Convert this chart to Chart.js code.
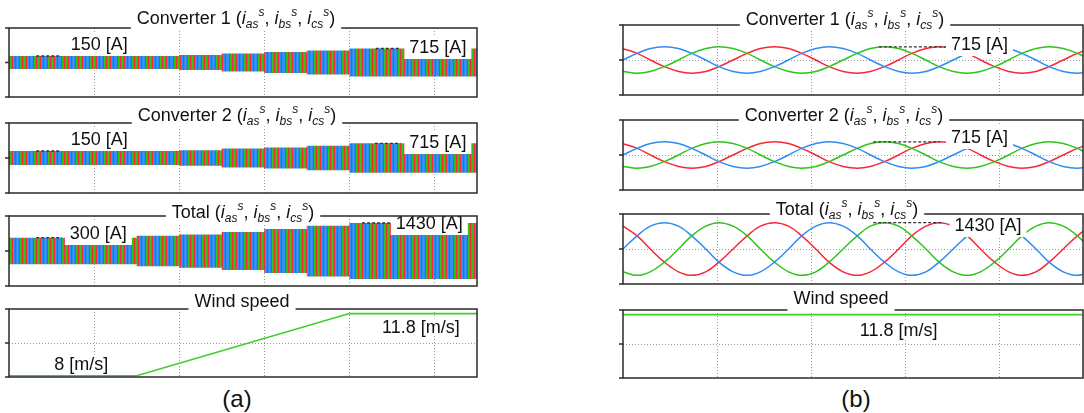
<!DOCTYPE html>
<html>
<head>
<meta charset="utf-8">
<script src="https://cdn.jsdelivr.net/npm/chart.js@4.4.0/dist/chart.umd.min.js"></script>
<style>
  body { margin: 0; background: #fff; width: 1084px; height: 413px; position: relative; overflow: hidden;
         font-family: "Liberation Sans", Arial, sans-serif; }
  .cap { position: absolute; top: 385px; width: 60px; text-align: center; font-size: 24px; line-height: 28px; color: #111; }
</style>
</head>
<body>
<div class="cap" style="left:207px">(a)</div>
<div class="cap" style="left:826px">(b)</div>
<script>
var FONT = '"Liberation Sans", Arial, sans-serif';
var RED = '#f8283a', BLUE = '#2f8cf4', GREEN = '#2fc41c', WIND = '#3ccf2a';

// ---- (a) wind ramp, long time window (x in grid divisions) ----
var segStartA = [0, 1.5, 2.0, 2.5, 3.0, 3.5, 4.0];
var segEndA = 5.5;
var conv1PeakA = [340, 340, 390, 470, 550, 625, 730];
var conv2PeakA = [360, 360, 395, 485, 540, 625, 755];
var totalPeakA = [685, 780, 855, 975, 1130, 1305, 1440];
var windTimeA = [0, 1.5, 4.0, 5.5];
var windA = [8, 8, 11.8, 11.8];

// ---- (b) steady state at 11.8 m/s, a few cycles ----
var timeB = [0.00, 0.15, 0.29, 0.44, 0.59, 0.73, 0.88, 1.02, 1.17, 1.32, 1.46, 1.61,
             1.76, 1.90, 2.05, 2.19, 2.34, 2.49, 2.63, 2.78, 2.93, 3.07, 3.22, 3.36,
             3.51, 3.66, 3.80, 3.95, 4.10, 4.24, 4.39, 4.53, 4.68, 4.83, 4.97];
var iasConvB = [0, 358, 619, 715, 619, 358, 0, -358, -619, -715, -619, -358,
                0, 358, 619, 715, 619, 358, 0, -358, -619, -715, -619, -358,
                0, 358, 619, 715, 619, 358, 0, -358, -619, -715, -619];
var ibsConvB = [-619, -715, -619, -358, 0, 358, 619, 715, 619, 358, 0, -358,
                -619, -715, -619, -358, 0, 358, 619, 715, 619, 358, 0, -358,
                -619, -715, -619, -358, 0, 358, 619, 715, 619, 358, 0];
var icsConvB = [619, 358, 0, -358, -619, -715, -619, -358, 0, 358, 619, 715,
                619, 358, 0, -358, -619, -715, -619, -358, 0, 358, 619, 715,
                619, 358, 0, -358, -619, -715, -619, -358, 0, 358, 619];
var iasTotB = [0, 715, 1238, 1430, 1238, 715, 0, -715, -1238, -1430, -1238, -715,
               0, 715, 1238, 1430, 1238, 715, 0, -715, -1238, -1430, -1238, -715,
               0, 715, 1238, 1430, 1238, 715, 0, -715, -1238, -1430, -1238];
var ibsTotB = [-1238, -1430, -1238, -715, 0, 715, 1238, 1430, 1238, 715, 0, -715,
               -1238, -1430, -1238, -715, 0, 715, 1238, 1430, 1238, 715, 0, -715,
               -1238, -1430, -1238, -715, 0, 715, 1238, 1430, 1238, 715, 0];
var icsTotB = [1238, 715, 0, -715, -1238, -1430, -1238, -715, 0, 715, 1238, 1430,
               1238, 715, 0, -715, -1238, -1430, -1238, -715, 0, 715, 1238, 1430,
               1238, 715, 0, -715, -1238, -1430, -1238, -715, 0, 715, 1238];
var windTimeB = [0, 4.89];
var windB = [11.8, 11.8];

function pts(xs, ys) {
  return xs.map(function (x, i) { return { x: x, y: ys[i] }; });
}
function stepPts(peaks, sign) {
  var p = segStartA.map(function (t, i) { return { x: t, y: sign * peaks[i] }; });
  p.push({ x: segEndA, y: sign * peaks[peaks.length - 1] });
  return p;
}
// dense three-phase waveform seen as striped band
function stripes(ctx) {
  var c = document.createElement('canvas');
  c.width = 7; c.height = 4;
  var g = c.getContext('2d');
  [BLUE, RED, BLUE, GREEN, BLUE, RED, GREEN].forEach(function (col, i) {
    g.fillStyle = col; g.fillRect(i, 0, 1, 4);
  });
  return ctx.createPattern(c, 'repeat');
}
function bandSets(peaks) {
  return function (ctx) {
    return [
      { data: stepPts(peaks, 1), stepped: true, borderWidth: 0, borderColor: 'rgba(0,0,0,0)', fill: false },
      { data: stepPts(peaks, -1), stepped: true, borderWidth: 0, borderColor: 'rgba(0,0,0,0)', fill: '-1', backgroundColor: stripes(ctx) }
    ];
  };
}
function phaseSets(a, b, c) {
  return function () {
    return [
      { data: pts(timeB, a), borderColor: BLUE, tension: 0.4 },
      { data: pts(timeB, b), borderColor: GREEN, tension: 0.4 },
      { data: pts(timeB, c), borderColor: RED, tension: 0.4 }
    ];
  };
}
function windSets(t, v) {
  return function () {
    return [{ data: pts(t, v), borderColor: WIND, borderWidth: 1.6 }];
  };
}

var colA = { left: 0, width: 490, plotL: 9, plotR: 477, xMax: 5.5 };
var colB = { left: 600, width: 484, plotL: 623, plotR: 1083, xMax: 4.89 };

var panels = [
  { id: 'L1', col: colA, top: 28, bottom: 97, yr: [-1800, 1800], sets: bandSets(conv1PeakA),
    title: 'Converter 1', sym: true, tdx: -7, tdy: -4.5,
    labels: [{ text: '150 [A]', x: 1.06, y: 965 }, { text: '715 [A]', x: 5.04, y: 809 }],
    leaders: [{ x0: 0.32, x1: 0.6, y: 340 }, { x0: 4.31, x1: 4.6, y: 730 }] },
  { id: 'L2', col: colA, top: 123, bottom: 193, yr: [-1800, 1800], sets: bandSets(conv2PeakA),
    title: 'Converter 2', sym: true, tdx: -6, tdy: -2.5,
    labels: [{ text: '150 [A]', x: 1.06, y: 977 }, { text: '715 [A]', x: 5.04, y: 823 }],
    leaders: [{ x0: 0.32, x1: 0.6, y: 360 }, { x0: 4.3, x1: 4.6, y: 755 }] },
  { id: 'L3', col: colA, top: 216, bottom: 286, yr: [-1800, 1800], sets: bandSets(totalPeakA),
    title: 'Total', sym: true, tdx: 0, tdy: 1.5,
    labels: [{ text: '300 [A]', x: 1.05, y: 926 }, { text: '1430 [A]', x: 4.94, y: 1440 }],
    leaders: [{ x0: 0.32, x1: 0.62, y: 685 }, { x0: 4.15, x1: 4.48, y: 1440 }] },
  { id: 'L4', col: colA, top: 309, bottom: 377, yr: [7.92, 12.08], sets: windSets(windTimeA, windA),
    title: 'Wind speed', sym: false, tdx: -1, tdy: -2.5,
    labels: [{ text: '8 [m/s]', x: 0.85, y: 8.73, h: 9 }, { text: '11.8 [m/s]', x: 4.84, y: 10.96, h: 9 }],
    leaders: [] },
  { id: 'R1', col: colB, top: 25, bottom: 95, yr: [-1900, 1900], sets: phaseSets(iasConvB, ibsConvB, icsConvB),
    title: 'Converter 1', sym: true, tdx: -8, tdy: -0.5,
    labels: [{ text: '715 [A]', x: 3.79, y: 869 }],
    leaders: [{ x0: 2.72, x1: 3.43, y: 715 }] },
  { id: 'R2', col: colB, top: 120, bottom: 190, yr: [-1900, 1900], sets: phaseSets(iasConvB, ibsConvB, icsConvB),
    title: 'Converter 2', sym: true, tdx: -9, tdy: 0.5,
    labels: [{ text: '715 [A]', x: 3.79, y: 977 }],
    leaders: [{ x0: 2.66, x1: 3.37, y: 715 }] },
  { id: 'R3', col: colB, top: 214, bottom: 284, yr: [-1900, 1900], sets: phaseSets(iasTotB, ibsTotB, icsTotB),
    title: 'Total', sym: true, tdx: -6, tdy: 0.5,
    labels: [{ text: '1430 [A]', x: 3.88, y: 1303 }],
    leaders: [{ x0: 2.66, x1: 3.38, y: 1430 }] },
  { id: 'R4', col: colB, top: 310, bottom: 378, yr: [7.92, 12.08], sets: windSets(windTimeB, windB),
    title: 'Wind speed', sym: false, tdx: -12, tdy: -6.5,
    labels: [{ text: '11.8 [m/s]', x: 2.93, y: 10.84, h: 9 }],
    leaders: [] }
];
var panelById = {};

function drawTitle(ctx, p, a) {
  var parts = [[p.title + (p.sym ? ' (' : ''), 18, 0, false]];
  if (p.sym) {
    ['as', 'bs', 'cs'].forEach(function (sub, k) {
      parts.push(['i', 18, 0, true], [sub, 12, 4, true], ['s', 12, -8, true]);
      parts.push([k < 2 ? ', ' : ')', 18, 0, false]);
    });
  }
  var w = 0;
  parts.forEach(function (q) {
    ctx.font = (q[3] ? 'italic ' : '') + q[1] + 'px ' + FONT;
    q.w = ctx.measureText(q[0]).width; w += q.w;
  });
  var base = a.top + p.tdy;
  var x = (a.left + a.right) / 2 + p.tdx - w / 2;
  var bot = Math.max(base + 6, a.top + 2);
  ctx.fillStyle = '#fff';
  ctx.fillRect(x - 6, base - 17, w + 12, bot - base + 17);
  ctx.fillStyle = '#111'; ctx.textAlign = 'left'; ctx.textBaseline = 'alphabetic';
  parts.forEach(function (q) {
    ctx.font = (q[3] ? 'italic ' : '') + q[1] + 'px ' + FONT;
    ctx.fillText(q[0], x, base + q[2]);
    x += q.w;
  });
}

var deco = {
  id: 'deco',
  afterDatasetsDraw: function (chart) {
    var p = panelById[chart.canvas.id];
    var ctx = chart.ctx, a = chart.chartArea, xs = chart.scales.x, ys = chart.scales.y;
    ctx.save();
    ctx.strokeStyle = '#333'; ctx.lineWidth = 1.3; ctx.setLineDash([3, 2]);
    p.leaders.forEach(function (l) {
      var y = ys.getPixelForValue(l.y);
      ctx.beginPath(); ctx.moveTo(xs.getPixelForValue(l.x0), y); ctx.lineTo(xs.getPixelForValue(l.x1), y); ctx.stroke();
    });
    ctx.setLineDash([]);
    ctx.font = '18px ' + FONT; ctx.textAlign = 'center'; ctx.textBaseline = 'middle';
    p.labels.forEach(function (l) {
      var px = xs.getPixelForValue(l.x), py = ys.getPixelForValue(l.y);
      var w = ctx.measureText(l.text).width, h = l.h || 12;
      ctx.fillStyle = '#fff'; ctx.fillRect(px - w / 2 - 5, py - h, w + 10, 2 * h);
      ctx.fillStyle = '#111'; ctx.fillText(l.text, px, py + 1);
    });
    ctx.strokeStyle = '#2a2a2a'; ctx.lineWidth = 1.5;
    ctx.strokeRect(a.left, a.top, a.right - a.left, a.bottom - a.top);
    [ys.min, (ys.min + ys.max) / 2, ys.max].forEach(function (v) {
      var y = ys.getPixelForValue(v);
      ctx.beginPath(); ctx.moveTo(a.left - 4, y); ctx.lineTo(a.left, y); ctx.stroke();
    });
    drawTitle(ctx, p, a);
    ctx.restore();
  }
};

function makePanel(p) {
  var col = p.col;
  var cv = document.createElement('canvas');
  cv.id = p.id;
  cv.width = col.width;
  cv.height = p.bottom - p.top + 36;
  cv.style.cssText = 'position:absolute;left:' + col.left + 'px;top:' + (p.top - 32) + 'px;';
  document.body.appendChild(cv);
  panelById[p.id] = p;
  var ctx = cv.getContext('2d');
  var mid = (p.yr[0] + p.yr[1]) / 2;
  var xTicks = [];
  for (var k = 1; k < col.xMax; k++) xTicks.push({ value: k });
  new Chart(cv, {
    type: 'line',
    data: { datasets: p.sets(ctx) },
    options: {
      responsive: false,
      animation: false,
      devicePixelRatio: 1,
      layout: { padding: { left: col.plotL - col.left, right: col.left + col.width - col.plotR, top: 32, bottom: 4 } },
      plugins: { legend: { display: false }, tooltip: { enabled: false } },
      elements: { point: { radius: 0 }, line: { borderWidth: 1.5 } },
      scales: {
        x: {
          type: 'linear', min: 0, max: col.xMax,
          ticks: { display: false },
          grid: { color: '#9c9c9c', lineWidth: 1, drawTicks: false },
          border: { display: false, dash: [1, 2] },
          afterBuildTicks: function (s) { s.ticks = xTicks.slice(); },
          afterFit: function (s) { s.height = 0; }
        },
        y: {
          min: p.yr[0], max: p.yr[1],
          ticks: { display: false },
          grid: { color: '#9c9c9c', lineWidth: 1, drawTicks: false },
          border: { display: false, dash: [1, 2] },
          afterBuildTicks: function (s) { s.ticks = [{ value: mid }]; },
          afterFit: function (s) { s.width = 0; }
        }
      }
    },
    plugins: [deco]
  });
}

panels.forEach(makePanel);
</script>
</body>
</html>
